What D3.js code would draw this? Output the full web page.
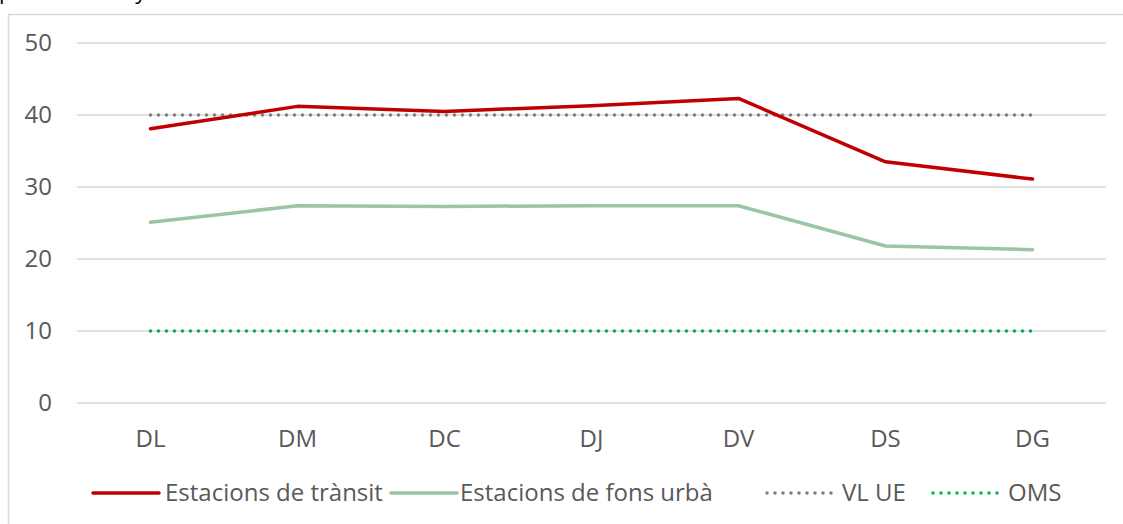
<!DOCTYPE html>
<html>
<head>
<meta charset="utf-8">
<script src="https://cdn.jsdelivr.net/npm/d3@7"></script>
<style>
body { margin: 0; background: #fff; }
svg { display: block; font-family: "Open Sans", sans-serif; }
</style>
</head>
<body>
<svg id="chart" width="1123" height="524"></svg>
<script>
// dies de la setmana
var dies = ["DL", "DM", "DC", "DJ", "DV", "DS", "DG"];
var transit = [38.1, 41.2, 40.5, 41.3, 42.3, 33.5, 31.1];
var fonsUrba = [25.1, 27.4, 27.3, 27.4, 27.4, 21.8, 21.3];
var vlUE = [40, 40, 40, 40, 40, 40, 40];
var oms = [10, 10, 10, 10, 10, 10, 10];
var yTicks = [0, 10, 20, 30, 40, 50];
var legendNames = ["Estacions de trànsit", "Estacions de fons urbà", "VL UE", "OMS"];

var fs = 24;
var svg = d3.select("#chart");

// title partly outside the window
svg.append("text")
    .attr("x", -1)
    .attr("y", -1)
    .attr("font-size", 22)
    .attr("fill", "#000")
    .text("perfil diari any");

// chart frame
svg.append("rect")
    .attr("x", 8.5).attr("y", 14.5)
    .attr("width", 1130).attr("height", 530)
    .attr("fill", "none")
    .attr("stroke", "#d9d9d9")
    .attr("stroke-width", 1.5);

var x = d3.scalePoint().domain(dies).range([77, 1106]).padding(0.5);
var y = d3.scaleLinear().domain([0, 50]).range([403, 43]);

// gridlines
svg.append("g").selectAll("line")
    .data(yTicks)
    .enter().append("line")
    .attr("x1", 77).attr("x2", 1106)
    .attr("y1", function(d) { return y(d); })
    .attr("y2", function(d) { return y(d); })
    .attr("stroke", "#d9d9d9")
    .attr("stroke-width", 1.5);

// y labels
svg.append("g").selectAll("text")
    .data(yTicks)
    .enter().append("text")
    .attr("x", 52)
    .attr("y", function(d) { return y(d); })
    .attr("dy", "0.35em")
    .attr("text-anchor", "end")
    .attr("font-size", fs)
    .attr("fill", "#595959")
    .text(function(d) { return d; });

// x labels
svg.append("g").selectAll("text")
    .data(dies)
    .enter().append("text")
    .attr("x", function(d) { return x(d); })
    .attr("y", 439)
    .attr("dy", "0.35em")
    .attr("text-anchor", "middle")
    .attr("font-size", fs)
    .attr("fill", "#595959")
    .text(function(d) { return d; });

var series = [
  { name: legendNames[0], values: transit, color: "#c00000", dash: null },
  { name: legendNames[1], values: fonsUrba, color: "#9cc5a6", dash: null },
  { name: legendNames[2], values: vlUE, color: "#7f7f7f", dash: "0 8" },
  { name: legendNames[3], values: oms, color: "#00b050", dash: "0 8" }
];

var line = d3.line()
    .x(function(d, i) { return x(dies[i]); })
    .y(function(d) { return y(d); });

// dotted reference lines first, then the data lines
[2, 3, 1, 0].forEach(function(k) {
  var s = series[k];
  svg.append("path")
    .datum(s.values)
    .attr("d", line)
    .attr("fill", "none")
    .attr("stroke", s.color)
    .attr("stroke-width", 3.5)
    .attr("stroke-linejoin", "round")
    .attr("stroke-linecap", "round")
    .attr("stroke-dasharray", s.dash);
});

// legend
var legX = [92, 390, 766, 932];
var legTextX = [165, 460, 842, 1008];
var legend = svg.append("g").selectAll("g")
    .data(series)
    .enter().append("g")
    .attr("transform", "translate(0,493)");

legend.append("line")
    .attr("x1", function(d, i) { return legX[i] + 1; })
    .attr("x2", function(d, i) { return legX[i] + 67; })
    .attr("stroke", function(d) { return d.color; })
    .attr("stroke-width", 3.5)
    .attr("stroke-linecap", "round")
    .attr("stroke-dasharray", function(d) { return d.dash; });

legend.append("text")
    .attr("x", function(d, i) { return legTextX[i]; })
    .attr("dy", "0.35em")
    .attr("font-size", fs)
    .attr("fill", "#595959")
    .text(function(d) { return d.name; });
</script>
</body>
</html>
